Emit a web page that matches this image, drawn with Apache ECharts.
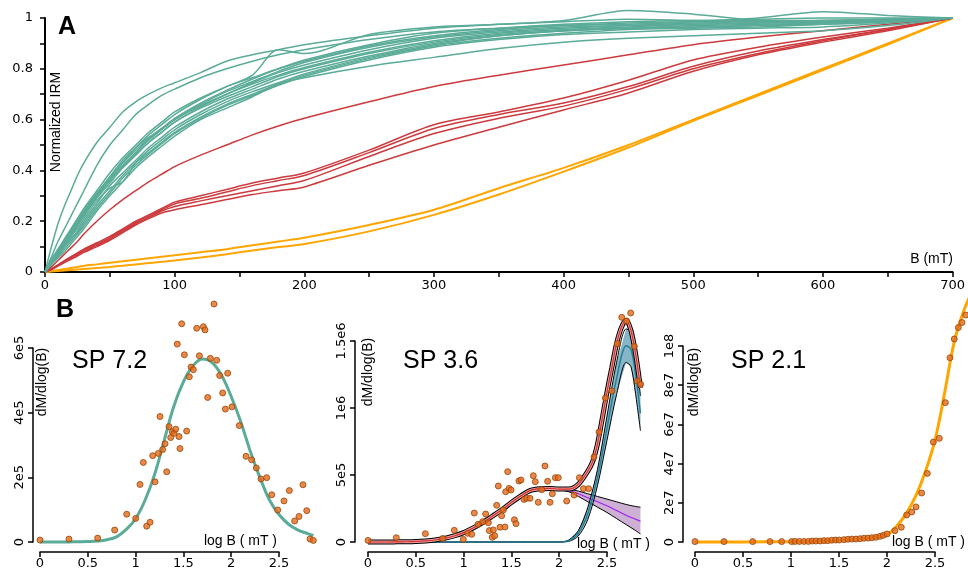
<!DOCTYPE html>
<html>
<head>
<meta charset="utf-8">
<title>IRM acquisition and coercivity spectra</title>
<script src="https://cdn.jsdelivr.net/npm/echarts@6.0.0/dist/echarts.min.js"></script>
<style>
  html, body { margin: 0; padding: 0; background: #fff; }
  #chart { width: 968px; height: 571px; }
</style>
</head>
<body>
<div id="chart"></div>
<script>
// ---- panel A: normalized IRM vs field (mT) ----
const fieldB = [0, 5, 10, 15, 20, 25, 30, 40, 50, 60, 70, 80, 90, 100, 120, 140, 160, 180, 200, 250, 300, 350, 400, 450, 500, 550, 600, 650, 700]

const tealIRM = [
  [0, .10, .19, .26, .32, .38, .43, .51, .57, .63, .67, .70, .725, .745, .785, .83, .855, .875, .895, .93, .96, .975, .985, .995, .99, .985, .99, .995, 1],
  [0, .06, .12, .17, .22, .27, .32, .42, .50, .56, .62, .66, .695, .72, .765, .80, .83, .855, .875, .915, .945, .96, .97, .98, .985, .99, .99, .995, 1],
  [0, .04, .08, .12, .16, .20, .24, .31, .37, .43, .49, .54, .58, .62, .68, .73, .775, .875, .86, .935, .965, .975, .99, 1.03, 1.015, .99, .985, .99, 1],
  [0, .05, .09, .13, .17, .21, .25, .32, .39, .45, .50, .55, .59, .63, .685, .73, .765, .80, .83, .89, .93, .955, .97, .975, .985, 1.0, 1.025, 1.01, 1],
  [0, .04, .075, .11, .15, .19, .23, .30, .36, .42, .47, .52, .56, .60, .66, .71, .75, .79, .825, .885, .925, .95, .965, .97, .975, .98, .985, .99, 1],
  [0, .045, .085, .125, .165, .20, .24, .31, .375, .44, .49, .53, .565, .60, .655, .70, .745, .785, .815, .875, .92, .945, .96, .97, .98, .985, .99, .995, 1],
  [0, .035, .07, .105, .14, .18, .22, .29, .35, .41, .46, .51, .55, .59, .65, .70, .74, .775, .805, .865, .91, .94, .955, .965, .975, .98, .985, .99, 1],
  [0, .03, .065, .10, .13, .16, .20, .27, .34, .39, .44, .49, .53, .57, .63, .68, .72, .76, .79, .85, .90, .93, .95, .96, .97, .975, .98, .99, 1],
  [0, .04, .08, .11, .14, .17, .21, .28, .33, .355, .43, .48, .52, .56, .62, .67, .71, .745, .78, .845, .895, .93, .95, .96, .965, .97, .98, .99, 1],
  [0, .035, .07, .10, .13, .155, .19, .26, .32, .38, .43, .47, .51, .55, .61, .66, .70, .74, .775, .84, .89, .92, .94, .955, .96, .965, .975, .985, 1],
  [0, .03, .06, .09, .12, .15, .18, .25, .31, .37, .42, .465, .505, .545, .605, .655, .695, .735, .77, .835, .885, .915, .935, .945, .955, .96, .965, .98, 1],
  [0, .03, .055, .08, .11, .14, .17, .24, .30, .355, .41, .455, .495, .535, .60, .645, .69, .74, .765, .81, .845, .88, .905, .92, .93, .94, .95, .97, 1],
  [0, .045, .08, .12, .16, .195, .235, .305, .37, .43, .48, .525, .565, .605, .665, .715, .76, .80, .835, .895, .94, .96, .975, .985, .99, .995, 1.0, 1.0, 1],
  [0, .04, .075, .115, .15, .185, .225, .295, .36, .415, .465, .51, .55, .59, .645, .69, .73, .77, .80, .86, .905, .935, .95, .96, .965, .97, .975, .985, 1]
]

const redIRM = [
  [0, .02, .045, .07, .095, .12, .15, .20, .245, .285, .32, .355, .385, .415, .46, .50, .54, .575, .605, .67, .73, .775, .815, .855, .895, .925, .95, .975, 1],
  [0, .012, .028, .045, .06, .075, .09, .115, .14, .17, .20, .225, .25, .275, .30, .325, .35, .37, .39, .48, .58, .63, .685, .755, .835, .885, .925, .96, 1],
  [0, .012, .027, .043, .058, .072, .087, .11, .135, .165, .195, .22, .245, .268, .29, .315, .34, .36, .38, .47, .565, .62, .665, .73, .81, .87, .915, .955, 1],
  [0, .011, .025, .04, .055, .068, .082, .105, .13, .16, .19, .215, .24, .258, .28, .30, .32, .34, .36, .455, .545, .605, .653, .72, .80, .86, .91, .955, 1],
  [0, .01, .023, .037, .05, .063, .077, .10, .125, .155, .185, .21, .232, .245, .265, .285, .305, .32, .335, .42, .50, .57, .638, .705, .79, .855, .905, .95, 1]
]

const orangeIRM = [
  [0, .004, .008, .012, .016, .02, .024, .03, .036, .042, .048, .054, .06, .066, .078, .09, .105, .12, .135, .185, .245, .33, .41, .50, .60, .70, .80, .90, 1],
  [0, .002, .004, .006, .008, .01, .012, .016, .02, .025, .03, .035, .04, .045, .057, .07, .085, .098, .11, .16, .225, .305, .395, .49, .595, .695, .795, .895, 1]
]

// ---- panel B: SP 7.2 (values in 1e5) ----
const sp72X = [0, 0.303, 0.603, 0.781, 0.907, 1.001, 1.046, 1.081, 1.116, 1.151, 1.179, 1.203, 1.238, 1.255, 1.283, 1.308, 1.325, 1.349, 1.367, 1.384, 1.402, 1.419, 1.436, 1.454, 1.464, 1.482, 1.51, 1.534, 1.562, 1.58, 1.604, 1.639, 1.667, 1.709, 1.726, 1.754, 1.782, 1.82, 1.848, 1.879, 1.911, 1.939, 1.963, 2.008, 2.085, 2.155, 2.214, 2.263, 2.312, 2.371, 2.424, 2.486, 2.552, 2.608, 2.664, 2.709, 2.751, 2.79, 2.824, 2.859]
const sp72Y = [0.06, 0.09, 0.12, 0.37, 0.86, 0.73, 1.78, 2.46, 0.49, 0.61, 2.67, 1.86, 2.74, 3.88, 2.86, 3.04, 2.17, 3.57, 3.23, 3.41, 3.36, 3.49, 6.12, 3.26, 2.89, 6.75, 5.79, 3.43, 5.11, 5.41, 5.33, 6.61, 5.76, 6.66, 6.56, 4.47, 5.68, 7.36, 5.62, 5.15, 4.61, 4.11, 5.22, 4.18, 3.6, 2.65, 2.54, 2.29, 1.95, 1.99, 1.46, 0.99, 1.27, 1.59, 0.65, 0.79, 1.77, 0.97, 0.09, 0.05]
const sp72FitX = [0, 0.1, 0.2, 0.3, 0.4, 0.5, 0.6, 0.7, 0.8, 0.9, 1.0, 1.1, 1.2, 1.3, 1.4, 1.5, 1.6, 1.7, 1.8, 1.9, 2.0, 2.1, 2.2, 2.3, 2.4, 2.5, 2.6, 2.7, 2.8, 2.86]
const sp72FitY = [0, 0, 0, 0.003, 0.008, 0.015, 0.03, 0.07, 0.16, 0.38, 0.72, 1.3, 2.1, 3.15, 4.2, 4.95, 5.45, 5.66, 5.55, 5.15, 4.5, 3.72, 2.8, 2.0, 1.3, 0.85, 0.55, 0.37, 0.26, 0.2]

// ---- panel B: SP 3.6 (values in 1e5) ----
const sp36X = [0, 0.296, 0.6, 0.781, 0.903, 0.997, 1.043, 1.085, 1.112, 1.151, 1.2, 1.231, 1.259, 1.269, 1.3, 1.311, 1.325, 1.346, 1.363, 1.381, 1.398, 1.416, 1.433, 1.44, 1.461, 1.475, 1.496, 1.531, 1.548, 1.579, 1.6, 1.632, 1.66, 1.695, 1.729, 1.75, 1.781, 1.817, 1.851, 1.879, 1.904, 1.928, 1.96, 1.99, 2.078, 2.155, 2.211, 2.253, 2.308, 2.364, 2.416, 2.483, 2.552, 2.608, 2.654, 2.706, 2.748, 2.786, 2.817, 2.852]
const sp36Y = [0.12, 0.32, 0.62, 0.27, 0.87, 0.2, 0.65, 0.57, 2.16, 1.32, 1.52, 2.09, 1.44, 0.85, 0.35, 0.9, 0.47, 2.74, 4.18, 1.1, 1.96, 2.39, 1.12, 3.75, 5.25, 4.0, 3.88, 1.66, 1.37, 4.55, 4.63, 3.18, 3.26, 3.26, 4.95, 4.5, 2.96, 3.9, 5.67, 4.53, 2.96, 3.6, 4.8, 4.8, 3.06, 3.5, 4.8, 3.98, 3.98, 6.34, 8.21, 10.75, 11.27, 14.8, 16.77, 16.49, 17.09, 14.6, 12.01, 11.77]
const sp36FitX = [0, 0.1, 0.2, 0.3, 0.4, 0.5, 0.6, 0.7, 0.8, 0.9, 1.0, 1.1, 1.2, 1.3, 1.4, 1.5, 1.6, 1.7, 1.8, 1.9, 2.0, 2.1, 2.2, 2.3, 2.35, 2.4, 2.45, 2.5, 2.55, 2.6, 2.65, 2.7, 2.75, 2.8, 2.85]
const sp36FitY = [0, 0, 0, 0.01, 0.02, 0.04, 0.08, 0.15, 0.27, 0.45, 0.7, 1.05, 1.45, 1.92, 2.4, 2.95, 3.45, 3.85, 3.98, 4.0, 3.95, 3.95, 4.3, 5.3, 6.0, 7.3, 9.2, 11.2, 13.0, 14.8, 16.0, 16.55, 15.8, 14.0, 11.5]
// soft component (purple) and hard component (blue) with their bounds
const softX = [1.9, 2.0, 2.1, 2.2, 2.3, 2.4, 2.5, 2.6, 2.7, 2.8, 2.85]
const softMid = [4.0, 3.95, 3.85, 3.6, 3.3, 3.0, 2.7, 2.35, 2.0, 1.7, 1.55]
const softHigh = [4.05, 4.02, 3.95, 3.8, 3.6, 3.4, 3.2, 3.0, 2.8, 2.65, 2.6]
const softLow = [3.95, 3.88, 3.75, 3.4, 3.0, 2.6, 2.2, 1.75, 1.3, 0.85, 0.6]
const hardX = [0, 2.0, 2.1, 2.2, 2.3, 2.4, 2.5, 2.6, 2.7, 2.75, 2.8, 2.85]
const hardMid = [0, 0, 0.1, 0.65, 2.15, 4.8, 8.5, 12.2, 14.65, 14.4, 12.5, 9.6]
const hardHigh = [0, 0, 0.15, 0.85, 2.6, 5.4, 9.4, 13.4, 15.9, 15.7, 13.9, 10.9]
const hardLow = [0, 0, 0.05, 0.45, 1.7, 4.2, 7.6, 11.0, 13.4, 13.1, 11.0, 8.3]

// ---- panel B: SP 2.1 (values in 1e7) ----
const sp21X = [0, 0.302, 0.601, 0.781, 0.903, 1.007, 1.042, 1.087, 1.135, 1.181, 1.222, 1.26, 1.302, 1.344, 1.382, 1.424, 1.465, 1.503, 1.552, 1.594, 1.635, 1.677, 1.719, 1.76, 1.802, 1.844, 1.885, 1.927, 1.962, 2.0, 2.083, 2.149, 2.205, 2.257, 2.302, 2.361, 2.42, 2.483, 2.545, 2.608, 2.656, 2.701, 2.743, 2.781, 2.82]
const sp21Y = [0.02, 0.02, 0.02, 0.02, 0.02, 0.02, 0.03, 0.03, 0.03, 0.03, 0.05, 0.05, 0.05, 0.07, 0.07, 0.09, 0.1, 0.1, 0.12, 0.14, 0.15, 0.15, 0.17, 0.19, 0.2, 0.22, 0.24, 0.29, 0.34, 0.41, 0.58, 0.75, 1.38, 1.53, 1.79, 2.5, 3.5, 5.1, 5.29, 7.11, 9.4, 10.36, 10.94, 11.2, 11.58]
const sp21FitX = [0, 0.5, 1.0, 1.2, 1.4, 1.6, 1.8, 1.9, 2.0, 2.1, 2.2, 2.3, 2.4, 2.5, 2.6, 2.7, 2.8, 2.86]
const sp21FitY = [0, 0.003, 0.015, 0.03, 0.06, 0.11, 0.19, 0.26, 0.38, 0.8, 1.45, 2.35, 3.6, 5.2, 7.6, 10.2, 11.8, 12.5]

const TEAL = '#5aab98'
const RED = '#cc3a3d'
const ORANGE = '#ffa500'
const FONT = 'Liberation Sans, Arial, sans-serif'
const TICKFONT = 'DejaVu Sans, sans-serif'

const pairs = (xs, ys) => xs.map((x, i) => [x, ys[i]])

// R style labels: 500000 -> 5e5, 1.5e6
function sci(v, exp) {
  if (v === 0) return '0'
  let m = v
  let e = exp
  while (Math.abs(m) >= 10) { m /= 10; e += 1 }
  return +m.toFixed(3) + 'e' + e
}

const chart = echarts.init(document.getElementById('chart'), null, { renderer: 'canvas' })

const black = { color: '#000', width: 1.5 }

// each small panel: one grid carrying the visible R-style axes (0..2.5),
// and one wider grid (same scale) carrying the data so nothing gets cut.
// the last one must stay inside the canvas, so its data range stops at 2.84
const small = [
  { left: 40, top: 348, width: 239, height: 194, yMax: 6, yStep: 2, exp: 5, yOffset: 7, dataMax: 3 },
  { left: 368, top: 341, width: 239, height: 201, yMax: 15, yStep: 5, exp: 5, yOffset: 13, dataMax: 3 },
  { left: 695, top: 346, width: 240, height: 196, yMax: 10, yStep: 2, exp: 7, yOffset: 12, dataMax: 2.84 }
]

function bXAxis(i) {
  return {
    type: 'value', gridIndex: i, min: 0, max: 2.5, interval: 0.5, offset: 10,
    axisLine: { show: true, onZero: false, lineStyle: black },
    axisTick: { show: true, length: 5, lineStyle: black },
    axisLabel: { color: '#000', fontSize: 13, fontFamily: TICKFONT, margin: 5 },
    splitLine: { show: false }
  }
}

function bYAxis(i, p) {
  return {
    type: 'value', gridIndex: i, min: 0, max: p.yMax, interval: p.yStep, offset: p.yOffset,
    axisLine: { show: true, onZero: false, lineStyle: black },
    axisTick: { show: true, length: 5, lineStyle: black },
    axisLabel: { color: '#000', fontSize: 13, fontFamily: TICKFONT, rotate: 90, margin: 7, formatter: (v) => sci(v, p.exp) },
    splitLine: { show: false }
  }
}

function hiddenAxis(i, min, max) {
  return { type: 'value', gridIndex: i, min: min, max: max, show: false }
}

function line(axis, data, color, width, smooth, z) {
  return {
    type: 'line', xAxisIndex: axis, yAxisIndex: axis, data: data,
    symbol: 'none', showSymbol: false, smooth: smooth, clip: false, silent: true,
    lineStyle: { color: color, width: width }, z: z || 2
  }
}

function band(axis, xs, lo, hi, fill) {
  return {
    type: 'custom', xAxisIndex: axis, yAxisIndex: axis, silent: true, clip: false,
    data: xs.map((x, i) => [x, hi[i], lo[i]]),
    encode: { x: 0, y: [1, 2] },
    renderItem: (params, api) => {
      if (params.dataIndex !== 0) return null
      const pts = []
      xs.forEach((x, i) => pts.push(api.coord([x, hi[i]])))
      for (let i = xs.length - 1; i >= 0; i--) pts.push(api.coord([xs[i], lo[i]]))
      return { type: 'polygon', shape: { points: pts }, style: { fill: fill } }
    },
    z: 1
  }
}

function points(axis, xs, ys) {
  return {
    type: 'scatter', xAxisIndex: axis, yAxisIndex: axis, data: pairs(xs, ys),
    symbol: 'circle', symbolSize: 6, clip: false, silent: true,
    itemStyle: { color: '#e36c1c', borderColor: '#9a4608', borderWidth: 1 }, z: 5
  }
}

const series = []
orangeIRM.forEach((v) => series.push(line(0, pairs(fieldB, v), ORANGE, 2, 0.3)))
redIRM.forEach((v) => series.push(line(0, pairs(fieldB, v), RED, 1.5, 0.3)))
tealIRM.forEach((v) => series.push(line(0, pairs(fieldB, v), TEAL, 1.5, 0.3)))

// data axes: 4, 5, 6
// SP 7.2
series.push(line(4, pairs(sp72FitX, sp72FitY), TEAL, 3, 0.4))
series.push(points(4, sp72X, sp72Y))

// SP 3.6
series.push(band(5, softX, softLow, softHigh, '#cdb0d3'))
series.push(band(5, hardX, hardLow, hardHigh, '#86b6c6'))
series.push(line(5, pairs(softX, softHigh), '#000', 1, 0.3, 3))
series.push(line(5, pairs(softX, softLow), '#000', 1, 0.3, 3))
series.push(line(5, pairs(softX, softMid), '#a020f0', 1.2, 0.3, 3))
series.push(line(5, pairs(hardX, hardHigh), '#000', 1, 0.3, 3))
series.push(line(5, pairs(hardX, hardLow), '#000', 1, 0.3, 3))
series.push(line(5, pairs(hardX, hardMid), '#26809a', 1.5, 0.3, 3))
series.push(line(5, pairs(sp36FitX, sp36FitY), '#000', 5, 0.3, 4))
series.push(line(5, pairs(sp36FitX, sp36FitY), '#f2a4a4', 3, 0.3, 4))
series.push(line(5, pairs(sp36FitX, sp36FitY), '#d42f2f', 1.2, 0.3, 4))
series.push(points(5, sp36X, sp36Y))

// SP 2.1
series.push(line(6, pairs(sp21FitX, sp21FitY), ORANGE, 3, 0.4))
series.push(points(6, sp21X, sp21Y))

function label(text, x, y, size, opts) {
  opts = opts || {}
  return {
    type: 'text', x: x, y: y, rotation: opts.rotate ? Math.PI / 2 : 0, silent: true, z: 10,
    style: {
      text: text, fill: '#000', font: (opts.bold ? 'bold ' : '') + size + 'px ' + FONT,
      align: opts.align || 'center', verticalAlign: 'middle',
      textAlign: opts.align || 'center', textVerticalAlign: 'middle'
    }
  }
}

const grids = [{ left: 45, top: 18, width: 912, height: 254 }]
small.forEach((p) => grids.push({ left: p.left, top: p.top, width: p.width, height: p.height }))
small.forEach((p) => grids.push({ left: p.left, top: p.top, width: p.width * p.dataMax / 2.5, height: p.height }))

const option = {
  animation: false,
  backgroundColor: '#fff',
  grid: grids,
  xAxis: [
    {
      type: 'value', gridIndex: 0, min: 0, max: 700, interval: 100,
      axisLine: { show: true, onZero: false, lineStyle: { color: '#000', width: 2 } },
      axisTick: { show: true, length: 5, lineStyle: black },
      minorTick: { show: true, splitNumber: 2, length: 5, lineStyle: black },
      axisLabel: { color: '#000', fontSize: 13, fontFamily: TICKFONT, margin: 7 },
      splitLine: { show: false }
    },
    bXAxis(1), bXAxis(2), bXAxis(3),
    hiddenAxis(4, 0, small[0].dataMax), hiddenAxis(5, 0, small[1].dataMax), hiddenAxis(6, 0, small[2].dataMax)
  ],
  yAxis: [
    {
      type: 'value', gridIndex: 0, min: 0, max: 1, interval: 0.2,
      axisLine: { show: true, onZero: false, lineStyle: { color: '#000', width: 2 } },
      axisTick: { show: true, length: 5, lineStyle: black },
      minorTick: { show: true, splitNumber: 2, length: 5, lineStyle: black },
      axisLabel: { color: '#000', fontSize: 13, fontFamily: TICKFONT, margin: 12 },
      splitLine: { show: false }
    },
    bYAxis(1, small[0]), bYAxis(2, small[1]), bYAxis(3, small[2]),
    hiddenAxis(4, 0, small[0].yMax), hiddenAxis(5, 0, small[1].yMax), hiddenAxis(6, 0, small[2].yMax)
  ],
  graphic: [
    label('A', 67, 27, 25, { bold: true }),
    label('B', 65, 310, 25, { bold: true }),
    label('Normalized IRM', 56, 122, 14, { rotate: true }),
    label('B (mT)', 953, 259, 14, { align: 'right' }),
    label('SP 7.2', 72, 361, 25, { align: 'left' }),
    label('SP 3.6', 403, 361, 25, { align: 'left' }),
    label('SP 2.1', 731, 361, 25, { align: 'left' }),
    label('dM/dlog(B)', 42, 382, 14, { rotate: true }),
    label('dM/dlog(B)', 368, 372, 14, { rotate: true }),
    label('dM/dlog(B)', 694, 382, 14, { rotate: true }),
    label('log B ( mT )', 277, 541, 14, { align: 'right' }),
    label('log B ( mT )', 650, 544, 14, { align: 'right' }),
    label('log B ( mT )', 965, 542, 14, { align: 'right' })
  ],
  series: series
}

chart.setOption(option)

window.addEventListener('resize', () => {
  chart.resize()
})
</script>
</body>
</html>
